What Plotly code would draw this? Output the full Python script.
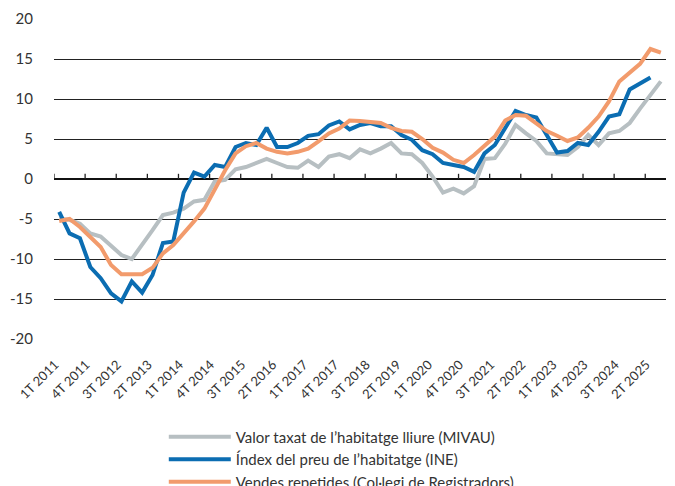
import plotly.graph_objects as go

quarters = [f"{q}T {y}" for y in range(2011, 2026) for q in (1, 2, 3, 4)][:59]

mivau = [-5.0, -5.1, -5.6, -6.8, -7.2, -8.4, -9.5, -10.0, -8.25, -6.4,
         -4.5, -4.2, -3.7, -2.8, -2.6, -0.3, -0.1, 1.2, 1.5, 2.0,
         2.5, 2.0, 1.5, 1.4, 2.3, 1.5, 2.8, 3.1, 2.6, 3.7,
         3.2, 3.8, 4.5, 3.2, 3.1, 2.0, 0.3, -1.7, -1.2, -1.8,
         -0.9, 2.5, 2.6, 4.4, 6.75, 5.7, 4.75, 3.2, 3.1, 3.0,
         4.0, 5.5, 4.25, 5.7, 6.0, 7.0, 8.8, 10.5, 12.2]

ine = [-4.1, -6.8, -7.4, -11.0, -12.4, -14.3, -15.3, -12.8, -14.2, -12.0,
       -8.0, -7.8, -1.7, 0.8, 0.3, 1.75, 1.5, 4.0, 4.5, 4.25,
       6.4, 4.0, 4.0, 4.5, 5.4, 5.6, 6.7, 7.2, 6.2, 6.75,
       7.0, 6.6, 6.6, 5.5, 4.9, 3.6, 3.1, 2.0, 1.75, 1.5,
       0.9, 3.2, 4.25, 6.3, 8.5, 8.0, 7.7, 5.5, 3.3, 3.5,
       4.5, 4.25, 5.9, 7.8, 8.1, 11.2, 12.0, 12.7]

registradors = [-5.25, -5.0, -6.0, -7.3, -8.5, -10.75, -11.9, -11.9, -11.9, -11.1,
                -9.3, -8.25, -6.8, -5.3, -3.7, -1.2, 1.1, 3.2, 4.1, 4.5,
                3.8, 3.4, 3.2, 3.4, 3.8, 4.7, 5.7, 6.3, 7.3, 7.25,
                7.1, 7.0, 6.4, 6.0, 5.9, 5.0, 3.9, 3.3, 2.4, 2.0,
                3.0, 4.2, 5.3, 7.3, 8.0, 7.9, 7.0, 6.0, 5.4, 4.75,
                5.2, 6.4, 7.8, 9.7, 12.2, 13.3, 14.4, 16.25, 15.8]

series_names = ["Valor taxat de l’habitatge lliure (MIVAU)",
                "Índex del preu de l’habitatge (INE)",
                "Vendes repetides (Col·legi de Registradors)"]
series_colors = ["#b7bfc2", "#0b6db2", "#f29b6c"]

x_tick_labels = ["1T 2011", "4T 2011", "3T 2012", "2T 2013", "1T 2014", "4T 2014",
                 "3T 2015", "2T 2016", "1T 2017", "4T 2017", "3T 2018", "2T 2019",
                 "1T 2020", "4T 2020", "3T 2021", "2T 2022", "1T 2023", "4T 2023",
                 "3T 2024", "2T 2025"]
y_tick_vals = [20, 15, 10, 5, 0, -5, -10, -15, -20]
y_tick_text = ["20", "15", "10", "5", "0", "-5", "-10", "-15", "-20"]

# tick positions at quarter boundaries (left edge of each labelled quarter)
x_tick_pos = [quarters.index(lbl) - 0.5 for lbl in x_tick_labels]

fig = go.Figure()

# small upward tick marks sitting on the zero line, at the x tick positions
tick_x, tick_y = [], []
for p in x_tick_pos:
    tick_x += [p, p, None]
    tick_y += [0, 0.65, None]
fig.add_trace(go.Scatter(x=tick_x, y=tick_y, mode="lines", showlegend=False,
                         hoverinfo="skip", line=dict(color="#222222", width=1.3)))

for name, vals, col in zip(series_names, [mivau, ine, registradors], series_colors):
    idx = list(range(len(vals)))
    fig.add_trace(go.Scatter(x=idx, y=vals, mode="lines", name=name,
                             text=quarters[:len(vals)],
                             line=dict(color=col, width=4)))

font = "Lato, 'Noto Sans', sans-serif"
xr = [-0.5, len(quarters) - 0.5]

# the page body has an 8px margin, so the figure is sized/offset accordingly
fig.update_layout(
    width=667, height=478,
    margin=dict(l=46, r=9, t=11, b=147, autoexpand=False),
    paper_bgcolor="white", plot_bgcolor="white",
    font=dict(family=font, size=13, color="#333333"),
    showlegend=True,
    legend=dict(orientation="v", x=0.1794, xanchor="left", y=-0.255, yanchor="top",
                font=dict(size=15, color="#333333"), tracegroupgap=0, itemwidth=62,
                bgcolor="rgba(0,0,0,0)"),
    xaxis=dict(range=xr, tickmode="array", tickvals=x_tick_pos, ticktext=x_tick_labels,
               tickangle=-45, showgrid=False, zeroline=False, showline=False,
               automargin=False, ticklabelshift=1,
               ticks="outside", ticklen=12, tickcolor="rgba(0,0,0,0)",
               tickfont=dict(size=13, color="#333333")),
    yaxis=dict(range=[-20, 20], tickmode="array", tickvals=y_tick_vals, ticktext=y_tick_text,
               showgrid=True, gridcolor="#222222", gridwidth=1.2,
               zeroline=True, zerolinecolor="#111111", zerolinewidth=1.5,
               showline=False, automargin=False,
               ticks="outside", ticklen=17, tickcolor="rgba(0,0,0,0)",
               tickfont=dict(size=15, color="#333333")),
)

fig.write_html("out.html")
